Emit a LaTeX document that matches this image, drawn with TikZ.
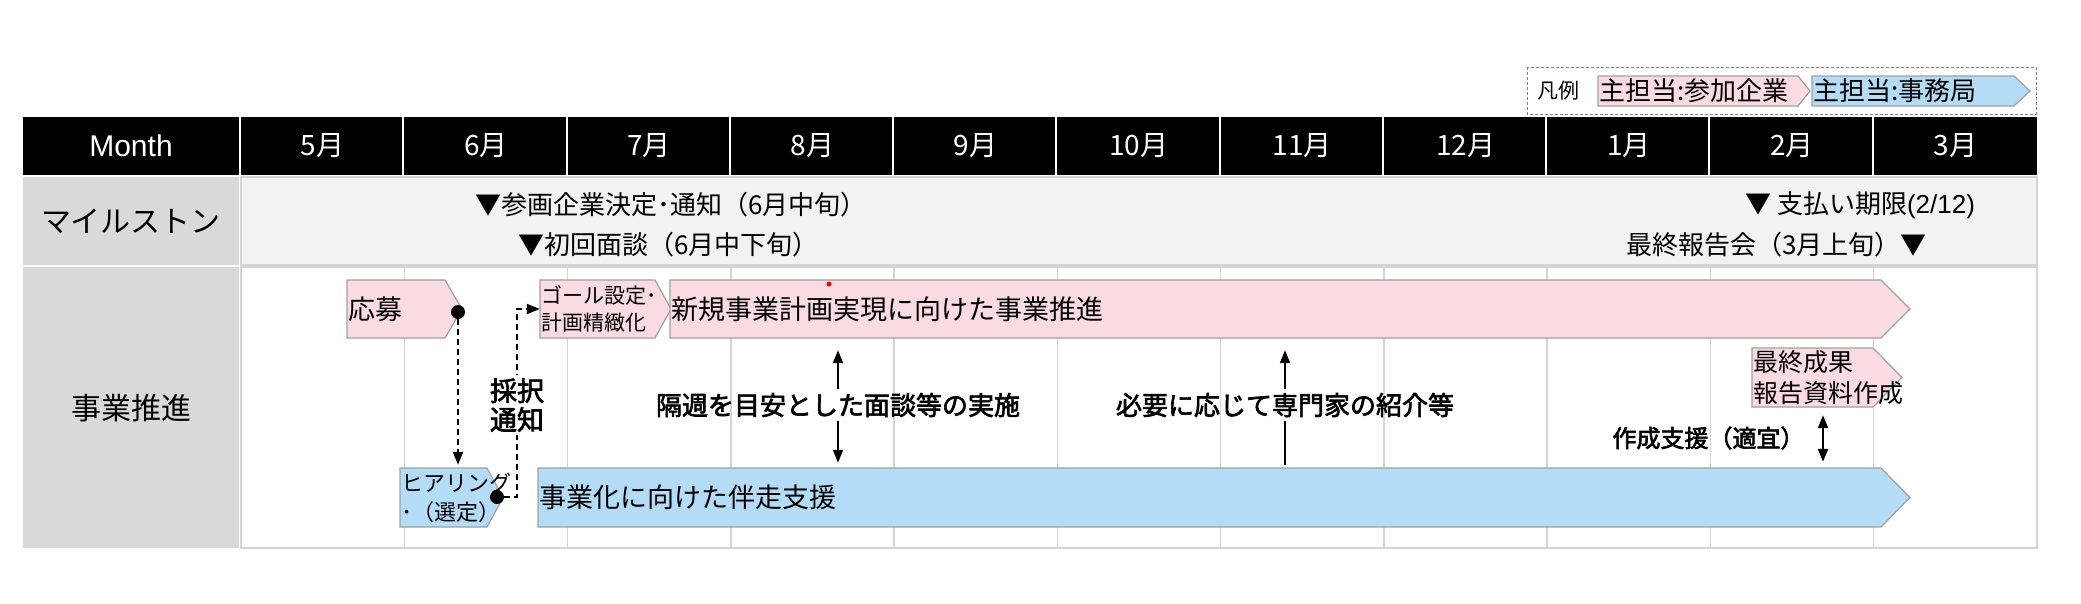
\documentclass[tikz,border=0pt]{standalone}
\usepackage{fontspec}
\setmainfont{Noto Sans CJK JP}
\newfontfamily\latinfont{Liberation Sans}
\newfontfamily\notefont[FakeBold=2.5]{Noto Sans CJK JP}
\usetikzlibrary{arrows.meta,fit}

\definecolor{barpink}{HTML}{F9DBE1}
\definecolor{barblue}{HTML}{B4DCF6}
\definecolor{bargray}{HTML}{A0A0A0}
\definecolor{cellgray}{HTML}{D9D9D9}
\definecolor{rowgray}{HTML}{F2F2F2}
\definecolor{gridgray}{HTML}{D4D4D4}

% chevron bar: style, name, top left, bottom right of body, tip depth, text style, text
\newcommand\chevron[9]{%
  \draw[#1] (#3,#4) -- (#5,#4) -- ({#5+#7},{(#4+#6)/2}) -- (#5,#6) -- (#3,#6) -- cycle;
  \path (#3,#4) coordinate (#2 nw) (#5,#6) coordinate (#2 se);
  \node[inner sep=0pt, fit=(#2 nw)(#2 se)] (#2) {};
  \node[#8, anchor=west] (#2 text) at (#2.west) {#9};
}

\begin{document}
\begin{tikzpicture}[x=1pt, y=-1pt,
    pinkbar/.style={fill=barpink, draw=bargray, line width=1.2pt},
    bluebar/.style={fill=barblue, draw=bargray, line width=1.2pt},
    bartext/.style={inner sep=1pt, font=\fontsize{27}{32}\selectfont},
    smalltext/.style={inner sep=1pt, align=left, font=\fontsize{21}{27}\selectfont},
    legendtext/.style={inner sep=1pt, font=\fontsize{26}{30}\selectfont},
    labeltext/.style={font=\fontsize{30}{34}\selectfont},
    monthtext/.style={text=white, font=\fontsize{28}{32}\selectfont},
    mstext/.style={inner sep=0pt, font=\fontsize{26}{30}\selectfont},
    note/.style={font=\notefont\fontsize{26}{30}\selectfont},
    solidarrow/.style={line width=2pt, -{Triangle[length=13pt,width=10pt]}},
    dasharrow/.style={line width=2pt, dash pattern=on 6pt off 4pt, -{Triangle[length=13pt,width=10pt]}},
    dot/.style={circle, fill=black, inner sep=0pt, minimum size=14pt}]
    \useasboundingbox (0,0) rectangle (2081,603);

    % Legend
    \draw[gray, line width=1pt, dash pattern=on 3pt off 2pt] (1527,67) rectangle (2036,114);
    \node[font=\fontsize{21}{25}\selectfont] (hanrei) at (1558,91) {凡例};
    \chevron{pinkbar}{legpink}{1598}{76}{1798}{106}{12}{legendtext}{主担当:参加企業}
    \chevron{bluebar}{legblue}{1812}{76}{2014}{106}{16}{legendtext}{主担当:事務局}

    % Header row
    \fill (23,117) rectangle (2037,175);
    \foreach \i in {0,...,10}
        \draw[white, line width=2pt] ({240+163.27*\i},117) -- ({240+163.27*\i},175);
    \node[monthtext, font=\latinfont\fontsize{30}{34}\selectfont] (month) at (131,146) {Month};
    \foreach \mon [count=\i] in {5,6,7,8,9,10,11,12,1,2,3}
        \node[monthtext] (m\i) at ({241+163.27*(\i-0.5)},146) {{\mon}月};

    % Milestone row
    \fill[cellgray] (23,177) rectangle (239,265);
    \filldraw[fill=rowgray, draw=gridgray, line width=1.5pt] (241,177) rectangle (2037,265);
    \node[labeltext] (milestone) at (131,221) {マイルストン};
    \node[mstext, anchor=west] (ms1) at (475,205) {▼参画企業決定･通知（6月中旬）};
    \node[mstext, anchor=west] (ms2) at (518,245) {▼初回面談（6月中下旬）};
    \node[mstext, anchor=west] (ms3) at (1745,205) {▼ 支払い期限{\latinfont (2/12)}};
    \node[mstext, anchor=east] (ms4) at (1927,245) {最終報告会（3月上旬）▼};

    % Business row
    \fill[cellgray] (23,267) rectangle (239,548);
    \draw[gridgray, line width=2pt] (241,267) rectangle (2037,548);
    \foreach \i in {1,...,10}
        \draw[gridgray, line width=1.5pt] ({241+163.27*\i},268) -- ({241+163.27*\i},547);
    \node[labeltext] (jigyo) at (131,408) {事業推進};

    % Bars
    \chevron{pinkbar}{oubo}{347}{280}{445}{338}{17}{bartext}{応募}
    \chevron{pinkbar}{goal}{540}{280}{655}{338}{16}{smalltext}{ゴール設定･\\計画精緻化}
    \chevron{pinkbar}{shinki}{670}{280}{1881}{338}{29}{bartext}{新規事業計画実現に向けた事業推進}
    \chevron{pinkbar}{saishu}{1752}{348}{1873}{407}{29}{smalltext, font=\fontsize{25}{31}\selectfont}{最終成果\\報告資料作成}
    \chevron{bluebar}{hearing}{400}{468}{487}{527}{16}{smalltext, font=\fontsize{22}{29}\selectfont}{ヒアリング\\･（選定）}
    \chevron{bluebar}{bansou}{538}{468}{1881}{527}{29}{bartext}{事業化に向けた伴走支援}
    \fill[red] (829,284) circle (2.5);

    % Selection flow
    \node[dot] (oubodot) at (458,312) {};
    \node[dot] (hearingdot) at (497,497) {};
    \draw[dasharrow, shorten >=3pt] (oubodot) -- (oubodot |- hearing.north);
    \draw[dasharrow] (hearingdot) -- ++(20,0) |- (goal.west);
    \node[note, fill=white, align=center, inner sep=3pt, font=\notefont\fontsize{27}{29}\selectfont] (saitaku) at (517,405) {採択\\通知};

    % Support notes
    \node[note] (kakushu) at (838,405) {隔週を目安とした面談等の実施};
    \draw[solidarrow, shorten >=12pt] (kakushu.north) -- (kakushu.north |- shinki.south);
    \draw[solidarrow, shorten >=5pt] (kakushu.south) -- (kakushu.south |- bansou.north);
    \node[note] (hitsuyo) at (1285,405) {必要に応じて専門家の紹介等};
    \draw[solidarrow, shorten >=12pt] (hitsuyo.north) -- (hitsuyo.north |- shinki.south);
    \draw[line width=2pt, shorten >=3pt] (hitsuyo.south) -- (hitsuyo.south |- bansou.north);
    \node[note, anchor=east, font=\notefont\fontsize{24}{28}\selectfont] (sakusei) at (1808,438) {作成支援（適宜）};
    \coordinate (sien) at (1823,438);
    \draw[line width=2pt, {Triangle[length=13pt,width=10pt]}-{Triangle[length=13pt,width=10pt]}, shorten <=8pt, shorten >=6pt]
        (sien |- saishu.south) -- (sien |- bansou.north);
\end{tikzpicture}
\end{document}
